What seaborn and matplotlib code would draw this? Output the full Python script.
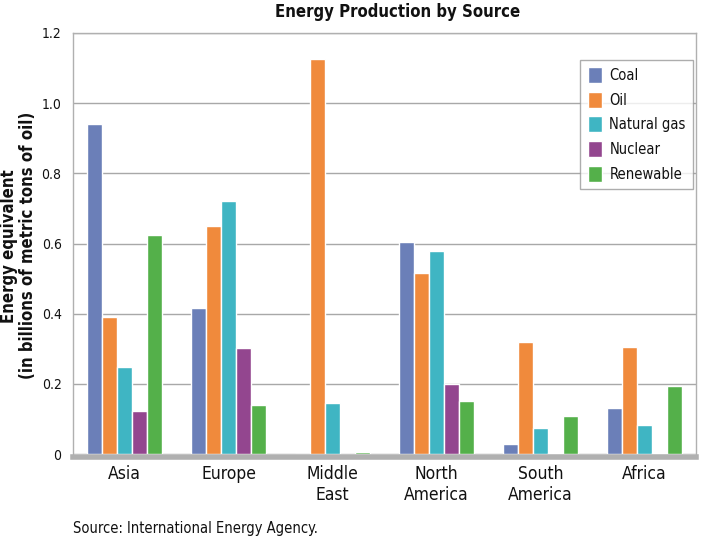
import pandas as pd
import numpy as np
import matplotlib
matplotlib.use("Agg")
import matplotlib.pyplot as plt
import seaborn as sns

# Data
regions = ['Asia', 'Europe', 'Middle\nEast', 'North\nAmerica', 'South\nAmerica', 'Africa']
sources = ['Coal', 'Oil', 'Natural gas', 'Nuclear', 'Renewable']
coal = [0.94, 0.417, 0.0, 0.605, 0.029, 0.132]
oil = [0.39, 0.65, 1.126, 0.517, 0.319, 0.306]
natural_gas = [0.249, 0.722, 0.146, 0.58, 0.074, 0.083]
nuclear = [0.123, 0.302, 0.0, 0.199, 0.003, 0.003]
renewable = [0.624, 0.14, 0.006, 0.152, 0.108, 0.194]
yticks = [0, 0.2, 0.4, 0.6, 0.8, 1.0, 1.2]
ytick_labels = ['0', '0.2', '0.4', '0.6', '0.8', '1.0', '1.2']

colors = ['#6b7fb8', '#f08a3c', '#3fb5c3', '#93468f', '#54b04a']

df = pd.DataFrame({'Region': regions * 5,
                   'Source': np.repeat(sources, len(regions)),
                   'Value': coal + oil + natural_gas + nuclear + renewable})

sns.set_style('white')
plt.rcParams['font.family'] = ['DejaVu Sans']
plt.rcParams['font.stretch'] = 'condensed'
plt.rcParams['text.color'] = '#111111'

fig = plt.figure(figsize=(7.2, 5.4), dpi=100)
ax = fig.add_axes([0.101, 0.159, 0.866, 0.78])

sns.barplot(data=df, x='Region', y='Value', hue='Source', hue_order=sources,
            palette=colors, width=0.72, saturation=1, ax=ax, gap=0)

ax.set_ylim(0, 1.2)
ax.set_xlim(-0.5, 5.5)
ax.set_yticks(yticks)
ax.set_yticklabels(ytick_labels)
ax.tick_params(axis='x', labelsize=12.5, length=0, pad=6, labelcolor='#111111')
ax.tick_params(axis='y', labelsize=10, length=0, pad=8, labelcolor='#111111')
for lab in ax.get_xticklabels():
    lab.set_linespacing(1.3)
ax.set_xlabel('')
ax.set_ylabel('')
ax.yaxis.grid(True, color='#a8a8a8', linewidth=1)
ax.set_axisbelow(True)
for s in ['top', 'right', 'left']:
    ax.spines[s].set_color('#b0b0b0')
    ax.spines[s].set_linewidth(1)
# thick grey base line sitting just under the bars
ax.spines['bottom'].set_color('#b0b0b0')
ax.spines['bottom'].set_linewidth(4)
ax.spines['bottom'].set_position(('outward', 2))

leg = ax.legend(loc='upper right', bbox_to_anchor=(0.995, 0.936), fontsize=10.5,
                frameon=True, fancybox=False, edgecolor='#999999',
                handlelength=1.0, handleheight=1.3, labelspacing=0.6,
                borderpad=0.5, handletextpad=0.5, borderaxespad=0)
leg.get_frame().set_linewidth(1)

fig.text(398 / 720, 1 - 12 / 540, 'Energy Production by Source', ha='center',
         va='center', fontsize=12, fontweight='bold')
fig.text(0.026, 0.545, 'Energy equivalent\n(in billions of metric tons of oil)',
         rotation=90, ha='center', va='center', fontsize=12, fontweight='bold',
         linespacing=1.05)
fig.text(73 / 720, 1 - 528 / 540, 'Source: International Energy Agency.',
         ha='left', va='center', fontsize=10.5)

fig.savefig('out.png', dpi=100)
